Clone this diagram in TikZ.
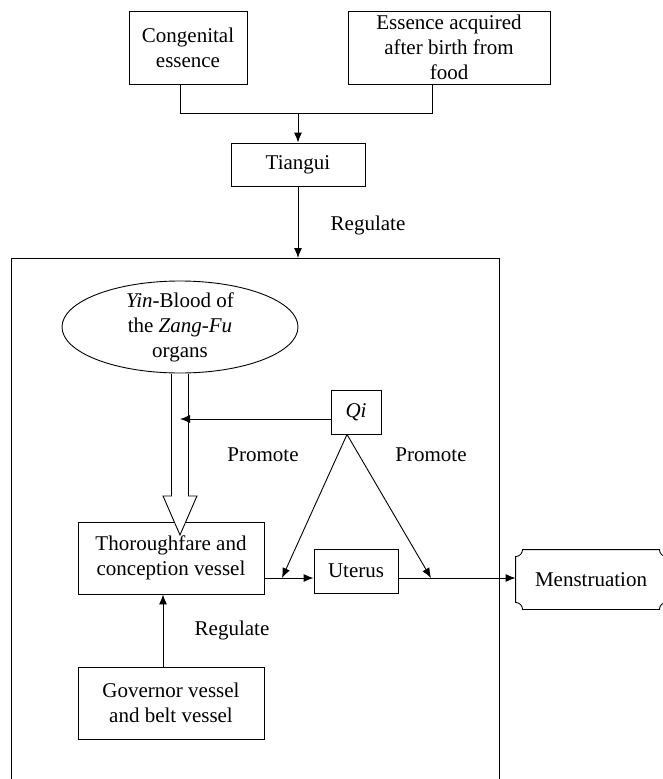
\documentclass[tikz,border=0pt]{standalone}
\usepackage{fontspec}
\setmainfont{Liberation Serif}
\usetikzlibrary{arrows.meta}
\usetikzlibrary{shapes.geometric}

\begin{document}
\begin{tikzpicture}[x=1pt,y=-1pt,line width=0.9pt,
  >={Latex[length=10pt,width=8pt]},
  every node/.style={font=\fontsize{21}{25}\selectfont,align=center,inner sep=0pt},
  box/.style 2 args={draw,minimum width=#1,minimum height=#2}]
\useasboundingbox (0,0) rectangle (663,779);
\clip (0,0) rectangle (663,779);

\node[box={118pt}{73pt}] (congen) at (188,47.5) {Congenital\\essence};
\node[box={202pt}{73pt}] (food) at (449,47.5) {Essence acquired\\after birth from\\food};
\node[box={134pt}{43pt}] (tiangui) at (298,164.5) {Tiangui};
\node[draw,anchor=north west,minimum width=488pt,minimum height=540pt] (body) at (11,258) {};
\node[draw,ellipse,inner ysep=-3pt,minimum width=236pt,minimum height=92pt] (blood) at (180,327) {\textit{Yin}-Blood of\\the \textit{Zang-Fu}\\organs};
\node[box={50pt}{44pt}] (qi) at (356,412) {\textit{Qi}};
\node[box={186pt}{72pt}] (thorough) at (171,558) {Thoroughfare and\\conception vessel};
\node[box={84pt}{44pt}] (uterus) at (356,571) {Uterus};
\node[box={186pt}{72pt}] (governor) at (171,703) {Governor vessel\\and belt vessel};
\node[minimum width=150pt,minimum height=59pt] (menses) at (591,579.5) {Menstruation};

\node (reg1) at (368,225) {Regulate};
\node (prom1) at (263,455) {Promote};
\node (prom2) at (431,455) {Promote};
\node (reg2) at (232,630) {Regulate};

\coordinate (join) at (298,113);
\draw ([xshift=-8pt]congen.south) |- (join);
\draw ([xshift=-17pt]food.south) |- (join);
\draw[->] (join) -- (tiangui.north);
\draw[->] (tiangui) -- (tiangui |- body.north);

\draw[fill=white] ([xshift=-8.5pt,yshift=-0.5pt]blood.south) -- ++(0,122) -- ++(-8.5,0) -- ++(17,39)
  -- ++(17,-39) -- ++(-8.5,0) -- ([xshift=8.5pt,yshift=-0.5pt]blood.south);
\draw[->] ([yshift=-7pt]qi.west) -- ([yshift=-7pt]qi.west -| blood.south);

\coordinate (apex) at ([xshift=-9pt]qi.south);
\coordinate (flow) at (0,578);
\coordinate (hitL) at (282,578);
\coordinate (hitR) at (431,578);
\draw[->] (apex) -- (hitL);
\draw[->] (apex) -- (hitR);
\draw[->] (thorough.east |- flow) -- (uterus.west |- flow);
\draw[->] (uterus.east |- flow) -- (menses.west |- flow);
\draw[->] ([xshift=-8pt]governor.north) -- ([xshift=-8pt]thorough.south);

\draw ([xshift=7pt]menses.north west) -- ([xshift=-7pt]menses.north east)
  arc[start angle=180,end angle=270,radius=7pt] -- ([yshift=7pt]menses.south east)
  arc[start angle=90,end angle=180,radius=7pt] -- ([xshift=7pt]menses.south west)
  arc[start angle=0,end angle=90,radius=7pt] -- ([yshift=-7pt]menses.north west)
  arc[start angle=270,end angle=360,radius=7pt] -- cycle;
\end{tikzpicture}
\end{document}
